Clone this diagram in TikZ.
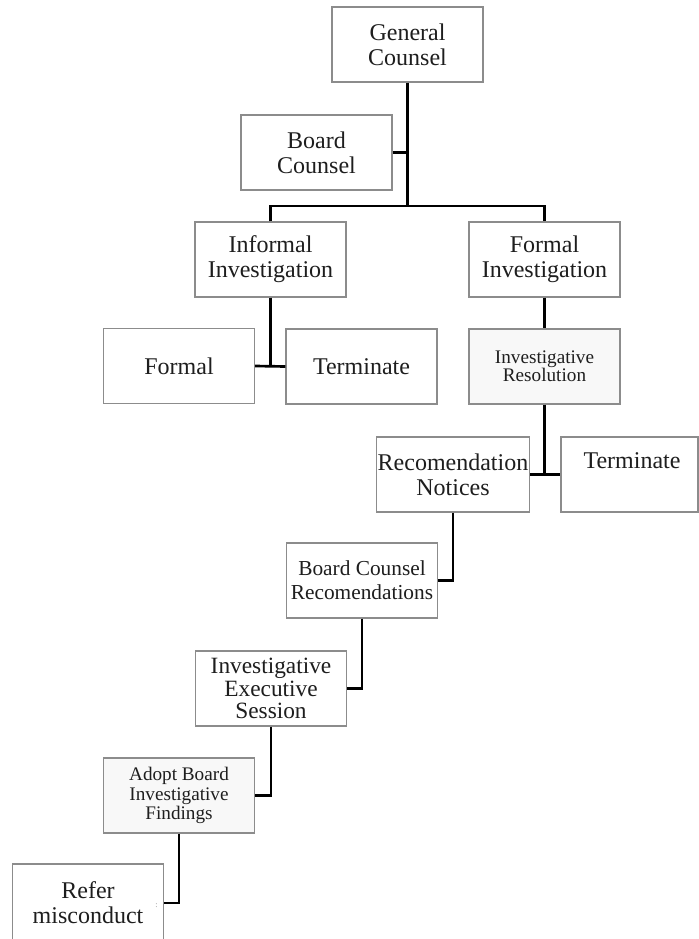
\documentclass[tikz,border=0pt]{standalone}
\usepackage{fontspec}
\setmainfont{Liberation Serif}
\definecolor{boxgray}{HTML}{8C8C8C}
\definecolor{txt}{HTML}{1E1E1E}
\definecolor{lightfill}{HTML}{F8F8F8}
\begin{document}
\begin{tikzpicture}[x=0.75pt,y=-0.75pt,
  box/.style={draw=boxgray,line width=0.8pt,fill=white,minimum width=113.25pt,minimum height=56.25pt,inner sep=1pt,align=center,text=txt},
  fmain/.style={font=\fontsize{18}{18.75}\selectfont},
  fmid/.style={font=\fontsize{16}{18}\selectfont},
  fies/.style={font=\fontsize{17.5}{17}\selectfont},
  fsmall/.style={font=\fontsize{14.4}{13.2}\selectfont},
  fsmallb/.style={font=\fontsize{14.4}{14.5}\selectfont},
  conn/.style={line width=2pt,black}]
\clip (0,0) rectangle (699,939);
\fill[white] (0,0) rectangle (699,939);
% boxes
\node[box,fmain] (gc) at (407.5,44.5) {General\\Counsel};
\node[box,fmain] (bc) at (316.5,152.5) {Board\\Counsel};
\node[box,fmain] (ii) at (270.5,259.5) {Informal\\Investigation};
\node[box,fmain] (fi) at (544.5,259.5) {Formal\\Investigation};
\node[box,fmain] (fm) at (179,366) {Formal};
\node[box,fmain] (t1) at (361.5,366.5) {Terminate};
\node[box,fsmall,fill=lightfill] (ir) at (544.5,366.5) {Investigative\\Resolution};
\node[box,fmain] (rn) at (453,474.5) {Recomendation\\Notices};
\node[box,minimum width=102.75pt] (t2) at (629.5,474.5) {};
\node[fmain,text=txt] (t2t) at (632,461) {Terminate};
\node[box,fmid] (bcr) at (362,580.5) {Board Counsel\\Recomendations};
\node[box,fies] (ies) at (271,688.5) {Investigative\\Executive\\Session};
\node[box,fsmallb,fill=lightfill] (abf) at (179,795.5) {Adopt Board\\Investigative\\Findings};
\node[box,fmain,minimum height=58.5pt] (rm) at (88,903) {Refer\\misconduct};
\node[text=boxgray,font=\fontsize{6}{6}\selectfont,inner sep=0pt] (dots) at (156.5,906) {:};
% connectors
\coordinate (j1) at (407.5,206);
\draw[conn] (gc.south) -- (j1);
\draw[conn] (bc.east) -- (bc.east -| gc.south);
\draw[conn] (ii.north) |- (j1) -| (fi.north);
\draw[conn] (ii.south) -- (ii.south |- fm.east);
\draw[conn] (fm.east) -- (t1.west);
\draw[conn] (fi.south) -- (ir.north);
\draw[conn] (ir.south) -- (ir.south |- rn.east);
\draw[conn] (rn.east) -- (t2.west);
\draw[conn] (rn.south) |- (bcr.east);
\draw[conn] (bcr.south) |- (ies.east);
\draw[conn] (ies.south) |- (abf.east);
\draw[conn] (abf.south) |- (rm.east);
\end{tikzpicture}
\end{document}
